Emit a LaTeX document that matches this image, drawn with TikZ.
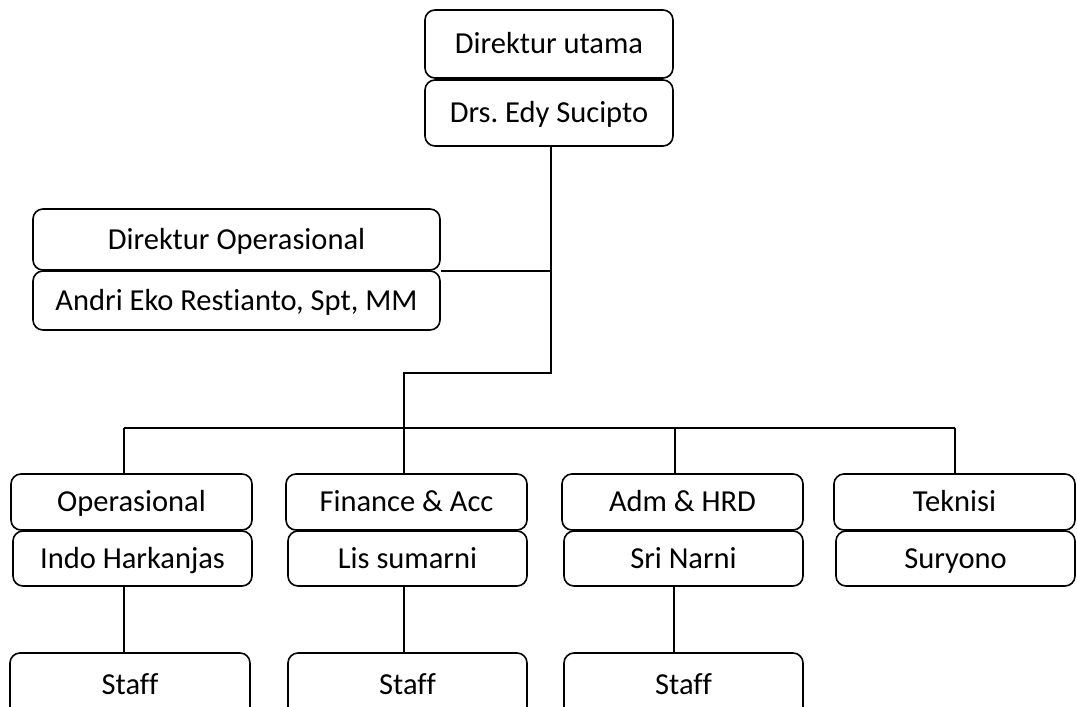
\documentclass[tikz,border=0pt]{standalone}
\usepackage{fontspec}
\setmainfont{Carlito}[Ligatures=NoCommon]
\begin{document}
\frenchspacing
\begin{tikzpicture}[x=1pt,y=-1pt,
  box/.style={draw, line width=1.6pt, rounded corners=10pt, inner sep=0pt,
    font=\fontsize{30.5}{36}\selectfont, text=black,
    text height=19.6pt, text depth=0pt},
  link/.style={draw, line width=1.6pt}]
\useasboundingbox (0,0) rectangle (1077,707);
\clip (0,0) rectangle (1077,707);

% top management
\node[box, minimum width=248pt, minimum height=68pt] (du) at (549,44) {Direktur utama};
\node[box, minimum width=248pt, minimum height=66pt] (edy) at (549,113) {Drs. Edy Sucipto};

% operations director
\node[box, minimum width=407pt, minimum height=61pt] (dop) at (236.5,239.5) {Direktur Operasional};
\node[box, minimum width=407pt, minimum height=59pt] (andri) at (236.5,300.5) {Andri Eko Restianto, Spt, MM};

% departments
\node[box, minimum width=241pt, minimum height=56pt] (ops) at (131.5,502) {Operasional};
\node[box, minimum width=239pt, minimum height=55pt] (indo) at (132.5,558.5) {Indo Harkanjas};
\node[box, minimum width=241pt, minimum height=56pt] (fin) at (406.5,502) {Finance \& Acc};
\node[box, minimum width=239pt, minimum height=55pt] (lis) at (407.5,558.5) {Lis sumarni};
\node[box, minimum width=241pt, minimum height=56pt] (adm) at (682.5,502) {Adm \& HRD};
\node[box, minimum width=239pt, minimum height=55pt] (sri) at (683.5,558.5) {Sri Narni};
\node[box, minimum width=241pt, minimum height=56pt] (tek) at (954.5,502) {Teknisi};
\node[box, minimum width=239pt, minimum height=55pt] (sury) at (955.5,558.5) {Suryono};

% staff
\node[box, minimum width=240pt, minimum height=64pt] (st1) at (130,685) {Staff};
\node[box, minimum width=239pt, minimum height=64pt] (st2) at (407.5,685) {Staff};
\node[box, minimum width=239pt, minimum height=64pt] (st3) at (683.5,685) {Staff};

% junction points
\coordinate (j1) at (551,373);
\coordinate (j2) at (404,373);
\coordinate (j3) at (404,428);

% main trunk
\draw[link] ([xshift=2pt]edy.south) -- ([xshift=2pt]edy.south |- j1) -- (j2) -- (j3);
\draw[link] (dop.south east) -- (dop.south east -| j1);

% department bus
\draw[link] ([xshift=-7.5pt]ops.north |- j3) -- ([xshift=0.5pt]tek.north |- j3);
\draw[link] ([xshift=-7.5pt]ops.north) -- ([xshift=-7.5pt]ops.north |- j3);
\draw[link] ([xshift=-2.5pt]fin.north) -- ([xshift=-2.5pt]fin.north |- j3);
\draw[link] ([xshift=-7.5pt]adm.north) -- ([xshift=-7.5pt]adm.north |- j3);
\draw[link] ([xshift=0.5pt]tek.north) -- ([xshift=0.5pt]tek.north |- j3);

% staff links
\draw[link] ([xshift=-8.5pt]indo.south) -- ([xshift=-8.5pt]indo.south |- st1.north);
\draw[link] ([xshift=-3.5pt]lis.south) -- ([xshift=-3.5pt]lis.south |- st2.north);
\draw[link] ([xshift=-9.5pt]sri.south) -- ([xshift=-9.5pt]sri.south |- st3.north);
\end{tikzpicture}
\end{document}
